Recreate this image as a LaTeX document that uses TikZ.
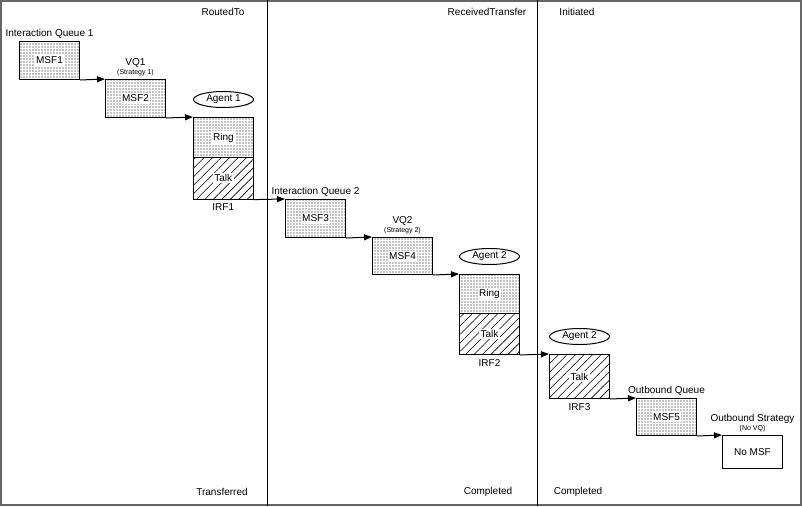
\documentclass[tikz,border=0pt]{standalone}
\usepackage{fontspec}
\setmainfont{Liberation Sans}
\usepackage{tikz}
\usetikzlibrary{positioning, arrows.meta, shapes.geometric, patterns.meta}

\begin{document}
\begin{tikzpicture}[x=1pt, y=-1pt,
    font=\fontsize{10}{11}\selectfont,
    frame/.style={draw=black!60, line width=1.6pt},
    lane/.style={draw=black, line width=1pt},
    msf/.style={draw, line width=1pt, anchor=north west, inner sep=0pt,
        minimum width=60pt, minimum height=38pt,
        pattern={Dots[distance=3pt, radius=0.6pt]}},
    ring/.style={msf, minimum height=40pt},
    talk/.style={draw, line width=1pt, anchor=north west, inner sep=0pt,
        minimum width=60pt, minimum height=42pt,
        pattern={Lines[angle=45, distance=6pt, line width=0.6pt]}},
    plain/.style={draw, line width=1pt, anchor=north west, fill=white,
        minimum width=60pt, minimum height=33pt},
    tag/.style={fill=white, inner sep=1.5pt},
    agent/.style={ellipse, draw, line width=1pt, inner sep=0pt,
        minimum width=60pt, minimum height=16pt},
    lbl/.style={inner sep=1pt},
    small/.style={inner sep=0.5pt, font=\fontsize{7}{8}\selectfont},
    flow/.style={line width=1pt, -{Triangle[length=8pt, width=6pt]}}
]
    \useasboundingbox (0,0) rectangle (802,506);

    % Frame and lanes
    \draw[frame] (0.8,0.8) rectangle (801.2,505.2);
    \coordinate (laneAtop) at (267,0);
    \coordinate (laneAbot) at (267,506);
    \coordinate (laneBtop) at (537,0);
    \coordinate (laneBbot) at (537,506);
    \draw[lane] (laneAtop) -- (laneAbot);
    \draw[lane] (laneBtop) -- (laneBbot);

    % Lane states
    \node (routedto) at (223,12) {RoutedTo};
    \node (received) at (487,12) {ReceivedTransfer};
    \node (initiated) at (577,12) {Initiated};
    \node (transferred) at (222,492) {Transferred};
    \node (completedA) at (488,492) {Completed};
    \node (completedB) at (578,492) {Completed};

    % First routing
    \node[msf, label={[tag]center:MSF1}] (msf1) at (19,41) {};
    \node[lbl, above=1.5pt of msf1] (iq1) {Interaction Queue 1};
    \node[msf, label={[tag]center:MSF2}] (msf2) at (105,79) {};
    \node[small, above=2pt of msf2] (strat1) {(Strategy 1)};
    \node[lbl, above=0pt of strat1] (vq1) {VQ1};
    \node[ring, label={[tag]center:Ring}] (ring1) at (193,117) {};
    \node[talk, label={[tag]center:Talk}] (talk1) at (193,157) {};
    \node[agent, above=9pt of ring1] (agent1) {Agent 1};
    \node[lbl, below=3pt of talk1] (irf1) {IRF1};

    % Transfer
    \node[msf, label={[tag]center:MSF3}] (msf3) at (285,199) {};
    \node[lbl, above=1.5pt of msf3] (iq2) {Interaction Queue 2};
    \node[msf, minimum height=37pt, label={[tag]center:MSF4}] (msf4) at (372,237) {};
    \node[small, above=2pt of msf4] (strat2) {(Strategy 2)};
    \node[lbl, above=0pt of strat2] (vq2) {VQ2};
    \node[ring, minimum height=39pt, label={[tag]center:Ring}] (ring2) at (459,274) {};
    \node[talk, minimum height=41pt, label={[tag]center:Talk}] (talk2) at (459,313) {};
    \node[agent, above=9pt of ring2] (agent2) {Agent 2};
    \node[lbl, below=3pt of talk2] (irf2) {IRF2};

    % Outbound
    \node[talk, minimum height=44pt, label={[tag]center:Talk}] (talk3) at (549,354) {};
    \node[agent, above=9pt of talk3] (agent3) {Agent 2};
    \node[lbl, below=3pt of talk3] (irf3) {IRF3};
    \node[msf, minimum height=37pt, label={[tag]center:MSF5}] (msf5) at (636,398) {};
    \node[lbl, above=1.5pt of msf5] (oq) {Outbound Queue};
    \node[plain] (nomsf) at (722,435) {No MSF};
    \node[small, above=2pt of nomsf] (novq) {(No VQ)};
    \node[lbl, above=0pt of novq] (ostrat) {Outbound Strategy};

    % Flow
    \draw[flow] (msf1.south east) -- (msf2.north west);
    \draw[flow] (msf2.south east) -- (ring1.north west);
    \draw[flow] (talk1.south east) -- (msf3.north west);
    \draw[flow] (msf3.south east) -- (msf4.north west);
    \draw[flow] (msf4.south east) -- (ring2.north west);
    \draw[flow] (talk2.south east) -- (talk3.north west);
    \draw[flow] (talk3.south east) -- (msf5.north west);
    \draw[flow] (msf5.south east) -- (nomsf.north west);
\end{tikzpicture}
\end{document}
